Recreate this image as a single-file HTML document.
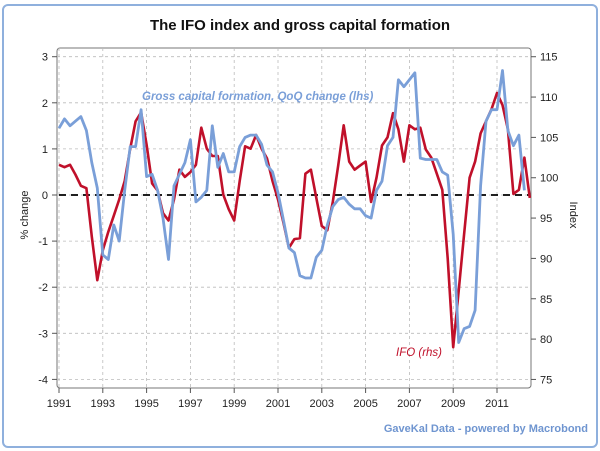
<!DOCTYPE html>
<html><head><meta charset="utf-8"><style>
body{margin:0;background:#fff;font-family:"Liberation Sans",sans-serif}
svg{display:block}
</style></head><body>
<svg id="chart" width="600" height="451" viewBox="0 0 600 451" xmlns="http://www.w3.org/2000/svg">
<rect x="3" y="5" width="594" height="442" fill="#fff" stroke="#8fb0dd" stroke-width="2" rx="5"/>
<text x="300" y="30" text-anchor="middle" font-size="15" font-weight="bold" fill="#111">The IFO index and gross capital formation</text>
<rect x="57" y="48" width="474" height="340" fill="none" stroke="#777" stroke-width="1" rx="3"/>
<g id="grid"></g><g id="axes"></g><g id="series"></g>
<text transform="translate(28,215) rotate(-90)" text-anchor="middle" font-size="11" fill="#222">% change</text>
<text transform="translate(570,215) rotate(90)" text-anchor="middle" font-size="11" fill="#222">Index</text>
<text x="142" y="100" font-size="11.5" font-style="italic" font-weight="bold" fill="#7a9fd8">Gross capital formation, QoQ change (lhs)</text>
<text x="396" y="356" font-size="11.5" font-style="italic" fill="#c0102a">IFO (rhs)</text>
<text x="588" y="432" text-anchor="end" font-size="11" font-weight="bold" fill="#6f95d0">GaveKal Data - powered by Macrobond</text>
</svg>
<script>
const leftTicks=[3,2,1,0,-1,-2,-3,-4];
const rightTicks=[115,110,105,100,95,90,85,80,75];
const yearTicks=[1991,1993,1995,1997,1999,2001,2003,2005,2007,2009,2011];
const startYear=1991;
const gcfValues=[1.45,1.65,1.5,1.6, 1.7,1.4,0.7,0.15, -1.3,-1.4,-0.65,-1.0, 0.1,1.05,1.05,1.85, 0.4,0.45,0.1,-0.5, -1.4,0.2,0.45,0.7, 1.2,-0.15,-0.05,0.1, 1.5,0.6,0.9,0.5, 0.5,1.05,1.25,1.3, 1.3,1.1,0.65,0.5, 0.05,-0.55,-1.15,-1.25, -1.75,-1.8,-1.8,-1.35, -1.2,-0.65,-0.25,-0.1, -0.05,-0.2,-0.3,-0.3, -0.45,-0.5,0.1,0.3, 1.07,1.25,2.5,2.35, 2.5,2.65,0.8,0.77, 0.77,0.77,0.5,0.43, -0.85,-3.2,-2.9,-2.85, -2.5,0.2,1.6,1.85, 1.85,2.7,1.4,1.07, 1.3,0.1];
const ifoValues=[101.6,101.3,101.6,100.4, 99.0,98.7,92.7,87.3, 91.0,93.3,95.3,97.3, 99.6,103.6,107.0,108.1, 104.1,99.3,98.4,95.6, 94.7,97.3,101.0,100.1, 100.7,101.6,106.2,103.6, 102.7,102.7,97.9,96.1, 94.7,99.6,103.9,103.6, 105.3,103.6,102.4,99.6, 97.3,94.4,91.3,92.4, 92.5,100.5,101,97.5, 94,93.5,97,101.5, 106.5,102,101,101.5, 102,97,100,104, 105,108,106,102, 106.5,106,106.2,103.5, 102.5,100.5,98.5,90, 79,86,93,100, 102,105.5,107,108.5, 110.5,109,106,98, 98.5,102.5,97.5];
const NS="http://www.w3.org/2000/svg";
const X=y=>59+(y-1991)*21.9;
const YL=v=>195-v*46.1;
const YR=v=>YL((v-97.86)/5.714);
function mk(tag,attrs,parent){const e=document.createElementNS(NS,tag);for(const k in attrs)e.setAttribute(k,attrs[k]);document.getElementById(parent).appendChild(e);return e;}
leftTicks.forEach(t=>{
 const g=mk('line',{x1:57,x2:531,y1:YL(t),y2:YL(t),stroke:'#bbb','stroke-dasharray':'3,3','stroke-width':0.8},'grid');
 
 
 const tk=mk('line',{x1:52,x2:57,y1:YL(t),y2:YL(t),stroke:'#555'},'axes');
 
 
 const l=mk('text',{x:48,y:YL(t)+4,'text-anchor':'end','font-size':11,fill:'#222'},'axes');l.textContent=t;
 
 
});
rightTicks.forEach(t=>{
 const tk=mk('line',{x1:531,x2:536,y1:YR(t),y2:YR(t),stroke:'#555'},'axes');
 
 
 const l=mk('text',{x:540,y:YR(t)+4,'font-size':11,fill:'#222'},'axes');l.textContent=t;
 
 
});
yearTicks.forEach(t=>{
 const g=mk('line',{x1:X(t),x2:X(t),y1:48,y2:388,stroke:'#bbb','stroke-dasharray':'3,3','stroke-width':0.8},'grid');
 
 
 const tk=mk('line',{x1:X(t),x2:X(t),y1:388,y2:393,stroke:'#555'},'axes');
 
 
 const l=mk('text',{x:X(t),y:407,'text-anchor':'middle','font-size':11,fill:'#222'},'axes');l.textContent=t;
 
 
});
const zero=mk('line',{x1:59,x2:529,y1:YL(0),y2:YL(0),stroke:'#000','stroke-width':1.8,'stroke-dasharray':'7,5'},'series');


const ifoPts=ifoValues.map((v,i)=>X(startYear+i*0.25).toFixed(1)+','+YR(v).toFixed(1)).join(' ');
const ifo=mk('polyline',{points:ifoPts,fill:'none',stroke:'#c0102a','stroke-width':2.6,'stroke-linejoin':'round'},'series');


const gcfPts=gcfValues.map((v,i)=>X(startYear+i*0.25).toFixed(1)+','+YL(v).toFixed(1)).join(' ');
const gcf=mk('polyline',{points:gcfPts,fill:'none',stroke:'#7a9fd8','stroke-width':2.8,'stroke-linejoin':'round'},'series');


</script>
</body></html>
